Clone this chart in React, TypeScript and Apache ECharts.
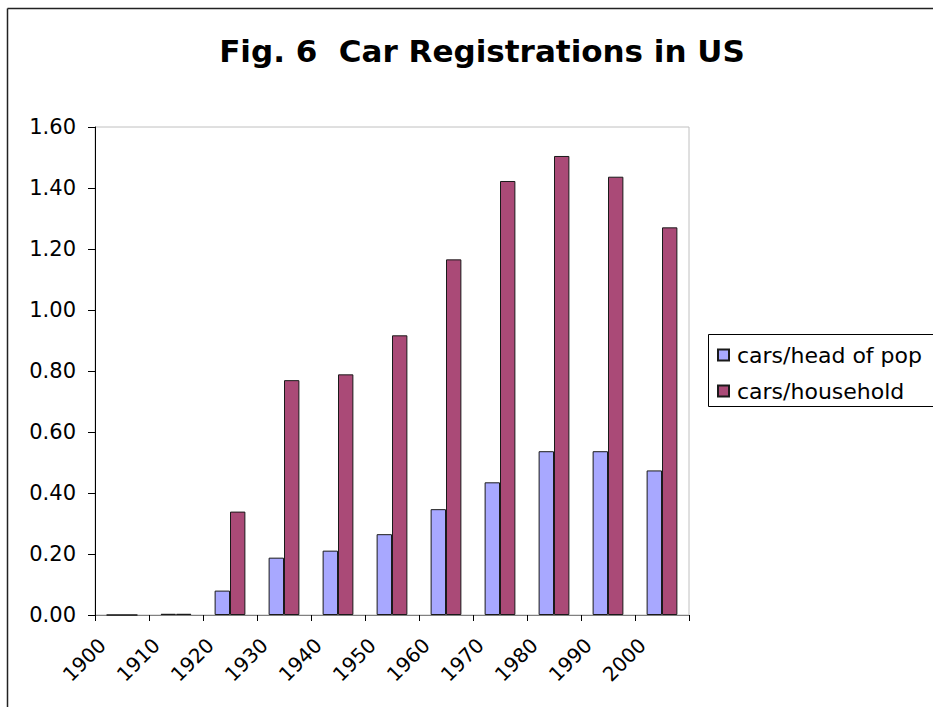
import React, { useEffect, useRef } from "react";
import * as echarts from "echarts";

const titleText = "Fig. 6  Car Registrations in US";
const years = ["1900", "1910", "1920", "1930", "1940", "1950", "1960", "1970", "1980", "1990", "2000"];
const seriesNames = ["cars/head of pop", "cars/household"];
const carsPerHead = [0, 0.004, 0.08, 0.188, 0.211, 0.265, 0.347, 0.435, 0.537, 0.537, 0.474];
const carsPerHousehold = [0, 0.004, 0.339, 0.77, 0.789, 0.917, 1.166, 1.423, 1.505, 1.437, 1.271];

const FONT = "DejaVu Sans";

export default function App() {
  const ref = useRef<HTMLDivElement>(null);
  useEffect(() => {
    if (!ref.current) return;
    const chart = echarts.init(ref.current, null, { renderer: "svg" });
    chart.setOption({
      animation: false,
      backgroundColor: "#ffffff",
      textStyle: { fontFamily: FONT },
      title: {
        text: titleText,
        left: 477,
        textAlign: "center",
        top: 30,
        textStyle: { fontFamily: FONT, fontWeight: "bold", fontSize: 31, color: "#000" },
      },
      graphic: [
        { type: "line", shape: { x1: 7.5, y1: 8.5, x2: 933, y2: 8.5 }, style: { stroke: "#222", lineWidth: 1.5 } },
        { type: "line", shape: { x1: 7.5, y1: 8.5, x2: 7.5, y2: 707 }, style: { stroke: "#222", lineWidth: 1.5 } },
        {
          type: "rect",
          shape: { x: 708.5, y: 334.5, width: 300, height: 72 },
          style: { fill: "none", stroke: "#000", lineWidth: 1 },
          z: 10,
        },
      ],
      legend: {
        orient: "vertical",
        left: 708,
        top: 334,
        padding: [10, 0, 5, 9],
        itemGap: 14,
        itemWidth: 11,
        itemHeight: 11,
        icon: "rect",
        borderWidth: 0,
        textStyle: { fontFamily: FONT, fontSize: 22, color: "#000", padding: [0, 0, 0, 3] },
        data: seriesNames,
      },
      grid: {
        left: 95,
        top: 127,
        right: 244,
        bottom: 92,
        show: true,
        borderColor: "#c0c0c0",
        borderWidth: 1,
      },
      xAxis: {
        type: "category",
        data: years,
        boundaryGap: true,
        axisLine: { lineStyle: { color: "#808080", width: 1 } },
        axisTick: { show: true, length: 6, lineStyle: { color: "#000" } },
        axisLabel: {
          rotate: 45,
          interval: 0,
          margin: 7,
          padding: [0, 28, 0, 0],
          fontFamily: FONT,
          fontSize: 20,
          color: "#000",
        },
      },
      yAxis: {
        type: "value",
        min: 0,
        max: 1.6,
        interval: 0.2,
        splitLine: { show: false },
        axisLine: { show: true, lineStyle: { color: "#000", width: 1 } },
        axisTick: { show: true, length: 7, lineStyle: { color: "#000" } },
        axisLabel: {
          margin: 19,
          fontFamily: FONT,
          fontSize: 21,
          color: "#000",
          formatter: (v: number) => v.toFixed(2),
        },
      },
      series: [
        {
          name: seriesNames[0],
          type: "bar",
          data: carsPerHead,
          barGap: "0%",
          barCategoryGap: "43%",
          itemStyle: { color: "#A8A8FF", borderColor: "#1a1a1a", borderWidth: 1 },
        },
        {
          name: seriesNames[1],
          type: "bar",
          data: carsPerHousehold,
          barGap: "0%",
          barCategoryGap: "43%",
          itemStyle: { color: "#AA4A77", borderColor: "#1a1a1a", borderWidth: 1 },
        },
      ],
    });
    return () => chart.dispose();
  }, []);
  return (
    <div
      ref={ref}
      style={{ position: "fixed", left: 0, top: 0, width: 933, height: 707, background: "#fff" }}
    />
  );
}
